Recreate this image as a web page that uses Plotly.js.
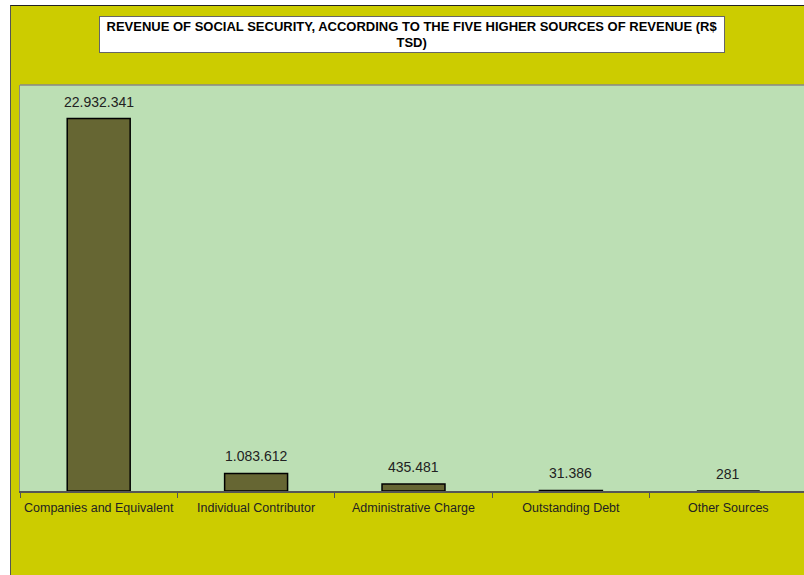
<!DOCTYPE html>
<html>
<head>
<meta charset="utf-8">
<script src="https://cdn.plot.ly/plotly-3.0.1.min.js"></script>
<style>
html,body{margin:0;padding:0;background:#ffffff;overflow:hidden;width:804px;height:575px;}
#chart{position:absolute;left:10px;top:5px;border-left:1px solid #555;border-top:1px solid #222;}
</style>
</head>
<body>
<div id="chart"></div>
<script>
const categories = ["Companies and Equivalent","Individual Contributor","Administrative Charge","Outstanding Debt","Other Sources"];
const revenue = [22932341, 1083612, 435481, 31386, 281];
const titleLines = ["REVENUE OF SOCIAL SECURITY, ACCORDING TO THE FIVE HIGHER SOURCES OF REVENUE (R$","TSD)"];

const FONT = 'Liberation Sans, Arial, sans-serif';

const trace = {
  type: 'bar',
  x: categories,
  y: revenue,
  marker: {color: '#666633', line: {color: '#000000', width: 1.5}},
  hoverinfo: 'none'
};

const fmt = v => String(v).replace(/\B(?=(\d{3})+(?!\d))/g, '.');
const labelAnnotations = categories.map((c, i) => ({
  xref: 'x', yref: 'y', x: c, y: revenue[i],
  text: fmt(revenue[i]),
  showarrow: false, xanchor: 'center', yanchor: 'bottom', yshift: 7,
  font: {family: FONT, size: 14, color: '#222222'}
}));

const layout = {
  width: 801,
  height: 570,
  margin: {l: 9, r: 5, t: 79, b: 85},
  paper_bgcolor: '#CCCC00',
  plot_bgcolor: '#BCDFB4',
  showlegend: false,
  bargap: 0.6,
  font: {family: FONT, size: 12, color: '#222222'},
  xaxis: {
    type: 'category',
    showline: true, linecolor: '#555555', linewidth: 1.5,
    ticks: 'outside', tickson: 'boundaries', ticklen: 5, tickcolor: '#555555', tickwidth: 1,
    tickfont: {size: 12.5, color: '#222222'},
    tickangle: 0,
    ticklabelstandoff: 4,
    showgrid: false, zeroline: false, automargin: false
  },
  yaxis: {
    range: [0, 25000000],
    showline: true, linecolor: '#888888', linewidth: 1.5,
    showticklabels: false, ticks: '', showgrid: false, zeroline: false, automargin: false
  },
  shapes: [
    {type: 'line', xref: 'paper', yref: 'paper', x0: 0, x1: 1, y0: 1, y1: 1, line: {color: '#888888', width: 1.5}}
  ],
  annotations: labelAnnotations.concat([{
    xref: 'paper', yref: 'paper',
    x: 0.4985, y: 1.1256, xanchor: 'center', yanchor: 'middle',
    text: '<b>' + titleLines.join('<br>') + '</b>',
    showarrow: false,
    align: 'center',
    width: 622, height: 33,
    bgcolor: '#ffffff', bordercolor: '#666666', borderwidth: 1, borderpad: 1,
    font: {family: FONT, size: 13, color: '#000000'}
  }])
};

Plotly.newPlot('chart', [trace], layout, {displayModeBar: false, staticPlot: true});
</script>
</body>
</html>
